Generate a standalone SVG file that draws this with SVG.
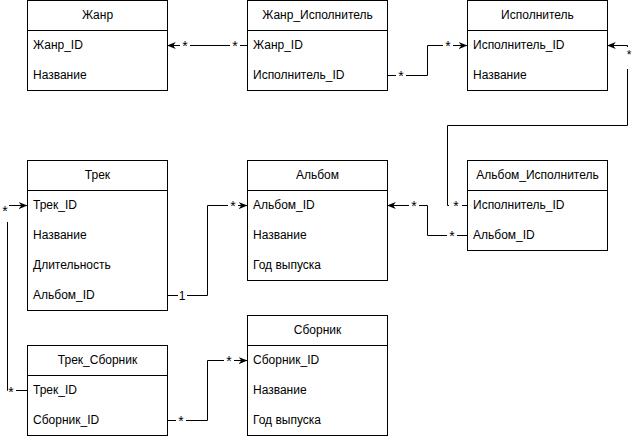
<svg xmlns="http://www.w3.org/2000/svg" width="636" height="436" viewBox="0 0 636 436">
<style>
  .box { fill: #ffffff; stroke: #000000; stroke-width: 1; }
  .sep { stroke: #000000; stroke-width: 1; }
  text { font-family: "Liberation Sans", Arial, Helvetica, sans-serif; font-size: 12px; fill: #000000; }
  .title { text-anchor: middle; }
  .edge { fill: none; stroke: #000000; stroke-width: 1; marker-end: url(#arrow); }
  .lbg { fill: #ffffff; stroke: none; }
  .lbl { text-anchor: middle; font-size: 14px; }
</style>
<defs>
  <marker id="arrow" viewBox="0 0 10 8" refX="9.5" refY="4" markerWidth="9" markerHeight="7" markerUnits="userSpaceOnUse" orient="auto">
    <path d="M0,0 L10,4 L0,8 L3,4 Z" fill="#000000"/>
  </marker>
</defs>
<rect width="636" height="436" fill="#ffffff"/>

<g id="connectors">
  <path class="edge" d="M247,45.5 L167.5,45.5"/>
  <path class="edge" d="M387.5,75.5 H427.5 V45.5 H467"/>
  <path class="edge" d="M467,205.5 H447.5 V125.5 H627.5 V45.5 H607.5"/>
  <path class="edge" d="M467,235.5 H427.5 V205.5 H387.5"/>
  <path class="edge" d="M167.5,295.5 H207.5 V205.5 H247"/>
  <path class="edge" d="M27,390.5 H7.5 V205.5 H27"/>
  <path class="edge" d="M167.5,420.5 H207.5 V360.5 H247"/>

  <rect class="lbg" x="180" y="39" width="10" height="11"/>
  <text class="lbl" x="185" y="51">*</text>
  <rect class="lbg" x="230" y="39" width="10" height="11"/>
  <text class="lbl" x="235" y="51">*</text>

  <rect class="lbg" x="396" y="69" width="10" height="11"/>
  <text class="lbl" x="401" y="81">*</text>
  <rect class="lbg" x="443" y="39" width="10" height="11"/>
  <text class="lbl" x="448" y="51">*</text>

  <rect class="lbg" x="622" y="47" width="14" height="22"/>
  <text class="lbl" x="629" y="59" style="font-size:12px">*</text>
  <rect class="lbg" x="449" y="199" width="13" height="11"/>
  <text class="lbl" x="456" y="211">*</text>

  <rect class="lbg" x="409" y="199" width="10" height="11"/>
  <text class="lbl" x="414" y="211">*</text>
  <rect class="lbg" x="447" y="229" width="10" height="11"/>
  <text class="lbl" x="452" y="241">*</text>

  <rect class="lbg" x="178" y="290" width="9" height="10"/>
  <text class="lbl" x="182" y="300" style="font-size:12px">1</text>
  <rect class="lbg" x="228" y="199" width="10" height="11"/>
  <text class="lbl" x="233" y="211">*</text>

  <rect class="lbg" x="0" y="199" width="9" height="23"/>
  <text class="lbl" x="5" y="216">*</text>
  <rect class="lbg" x="8" y="382" width="8" height="10"/>
  <text class="lbl" x="11" y="397">*</text>

  <rect class="lbg" x="176" y="414" width="10" height="11"/>
  <text class="lbl" x="181" y="426">*</text>
  <rect class="lbg" x="224" y="354" width="10" height="11"/>
  <text class="lbl" x="229" y="366">*</text>
</g>

<g id="node-zhanr">
  <rect class="box" x="27.5" y="0.5" width="140" height="90"/>
  <line class="sep" x1="27.5" y1="30.5" x2="167.5" y2="30.5"/>
  <text class="title" x="97.5" y="19">Жанр</text>
  <text x="33" y="49">Жанр_ID</text>
  <text x="33" y="79">Название</text>
</g>

<g id="node-zhanr-ispolnitel">
  <rect class="box" x="247.5" y="0.5" width="140" height="90"/>
  <line class="sep" x1="247.5" y1="30.5" x2="387.5" y2="30.5"/>
  <text class="title" x="317.5" y="19">Жанр_Исполнитель</text>
  <text x="253" y="49">Жанр_ID</text>
  <text x="253" y="79">Исполнитель_ID</text>
</g>

<g id="node-ispolnitel">
  <rect class="box" x="467.5" y="0.5" width="140" height="90"/>
  <line class="sep" x1="467.5" y1="30.5" x2="607.5" y2="30.5"/>
  <text class="title" x="537.5" y="19">Исполнитель</text>
  <text x="473" y="49">Исполнитель_ID</text>
  <text x="473" y="79">Название</text>
</g>

<g id="node-trek">
  <rect class="box" x="27.5" y="160.5" width="140" height="150"/>
  <line class="sep" x1="27.5" y1="190.5" x2="167.5" y2="190.5"/>
  <text class="title" x="97.5" y="179">Трек</text>
  <text x="33" y="209">Трек_ID</text>
  <text x="33" y="239">Название</text>
  <text x="33" y="269">Длительность</text>
  <text x="33" y="299">Альбом_ID</text>
</g>

<g id="node-albom">
  <rect class="box" x="247.5" y="160.5" width="140" height="120"/>
  <line class="sep" x1="247.5" y1="190.5" x2="387.5" y2="190.5"/>
  <text class="title" x="317.5" y="179">Альбом</text>
  <text x="253" y="209">Альбом_ID</text>
  <text x="253" y="239">Название</text>
  <text x="253" y="269">Год выпуска</text>
</g>

<g id="node-albom-ispolnitel">
  <rect class="box" x="467.5" y="160.5" width="140" height="90"/>
  <line class="sep" x1="467.5" y1="190.5" x2="607.5" y2="190.5"/>
  <text class="title" x="537.5" y="179">Альбом_Исполнитель</text>
  <text x="473" y="209">Исполнитель_ID</text>
  <text x="473" y="239">Альбом_ID</text>
</g>

<g id="node-trek-sbornik">
  <rect class="box" x="27.5" y="345.5" width="140" height="90"/>
  <line class="sep" x1="27.5" y1="375.5" x2="167.5" y2="375.5"/>
  <text class="title" x="97.5" y="364">Трек_Сборник</text>
  <text x="33" y="394">Трек_ID</text>
  <text x="33" y="424">Сборник_ID</text>
</g>

<g id="node-sbornik">
  <rect class="box" x="247.5" y="315.5" width="140" height="120"/>
  <line class="sep" x1="247.5" y1="345.5" x2="387.5" y2="345.5"/>
  <text class="title" x="317.5" y="334">Сборник</text>
  <text x="253" y="364">Сборник_ID</text>
  <text x="253" y="394">Название</text>
  <text x="253" y="424">Год выпуска</text>
</g>
</svg>
